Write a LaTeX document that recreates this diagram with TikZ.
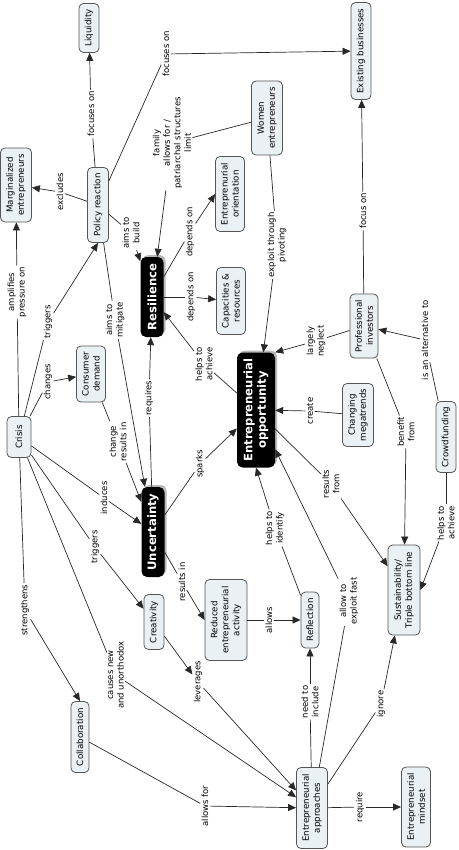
\documentclass[tikz,border=0pt]{standalone}
\usepackage{fontspec}
\setmainfont{DejaVu Sans}
\usetikzlibrary{arrows.meta,shadows}
\definecolor{nfill}{RGB}{234,241,245}
\definecolor{ndraw}{RGB}{85,85,85}
\definecolor{edgec}{RGB}{40,40,40}
\begin{document}
\begin{tikzpicture}[x=1pt,y=-1pt,
  every node/.style={rotate=90},
  sz/.style 2 args={minimum width=#1pt, minimum height=#2pt},
  cnode/.style={draw=ndraw, fill=nfill, rounded corners=4.5pt, line width=0.8pt, align=center, inner sep=2pt, font=\fontsize{8.7}{11}\selectfont},
  bnode/.style={fill=black, text=white, rounded corners=5.5pt, align=center, inner sep=2pt, font=\fontsize{11.6}{13.5}\selectfont\bfseries, drop shadow={shadow xshift=2pt, shadow yshift=2pt, fill=gray!55, opacity=1}},
  lab/.style={fill=white, inner sep=1.3pt, align=center, font=\fontsize{8.5}{10.5}\selectfont},
  conn/.style={draw=edgec, line width=0.7pt},
  arr/.style={conn, -{Triangle[length=8pt,width=7pt]}}
]
\useasboundingbox (0,0) rectangle (458,850);
% concept nodes
\node[cnode, sz={49}{20}] (liq) at (89,28) {Liquidity};
\node[cnode, sz={74}{31}] (marg) at (16,185) {Marginalized\\entrepreneurs};
\node[cnode, sz={75}{21}] (pol) at (98,205) {Policy reaction};
\node[cnode, sz={97}{20}] (exist) at (361,51) {Existing businesses};
\node[cnode, sz={74}{31}] (women) at (267,118) {Women\\entrepreneurs};
\node[cnode, sz={75}{29}] (orient) at (230,194) {Entreprenurial\\orientation};
\node[cnode, sz={67}{29}] (capac) at (231,301) {Capacities \&\\resources};
\node[bnode, sz={80}{23}] (res) at (152,297) {Resilience};
\node[cnode, sz={64}{28}] (prof) at (364,326) {Professional\\investors};
\node[bnode, sz={115}{38}] (opp) at (256,410) {Entrepreneurial\\opportunity};
\node[cnode, sz={63}{31}] (mega) at (358,415) {Changing\\megatrends};
\node[cnode, sz={71}{20}] (crowd) at (446,437) {Crowdfunding};
\node[cnode, sz={56}{29}] (cons) at (91,374) {Consumer\\demand};
\node[cnode, sz={41}{24}] (crisis) at (19,437) {Crisis};
\node[bnode, sz={90}{23}] (unc) at (153,532) {Uncertainty};
\node[cnode, sz={90}{32}] (sust) at (404,590) {Sustainability/\\Triple bottom line};
\node[cnode, sz={55}{20}] (creat) at (154,622) {Creativity};
\node[cnode, sz={81}{42}] (red) at (226,620) {Reduced\\entrepreneurial\\activity};
\node[cnode, sz={56}{18}] (refl) at (310,620) {Reflection};
\node[cnode, sz={71}{18}] (collab) at (80,737) {Collaboration};
\node[cnode, sz={81}{31}] (appr) at (312,808) {Entrepreneurial\\approaches};
\node[cnode, sz={80}{29}] (mind) at (416,807) {Entrepreneurial\\mindset};
% link labels
\node[lab] (l1) at (91,114) {focuses on};
\node[lab] (l2) at (60,192) {excludes};
\node[lab] (l3) at (166,54) {focuses on};
\node[lab] (l4) at (172,143) {family\\allows for /\\patriarchal structures\\limit};
\node[lab] (l5) at (131,233) {aims to\\build};
\node[lab] (l6) at (190,232) {depends on};
\node[lab] (l7) at (191,297) {depends on};
\node[lab] (l8) at (204,364) {helps to\\achieve};
\node[lab] (l9) at (277,245) {exploit through\\pivoting};
\node[lab] (l10) at (363,211) {focus on};
\node[lab] (l11) at (316,341) {largely\\neglect};
\node[lab] (l12) at (425,340) {is an alternative to};
\node[lab] (l13) at (310,411) {create};
\node[lab] (l14) at (406,432) {benefit\\from};
\node[lab] (l15) at (331,484) {results\\from};
\node[lab] (l16) at (446,523) {helps to\\achieve};
\node[lab] (l17) at (17,292) {amplifies\\pressure on};
\node[lab] (l18) at (48,322) {triggers};
\node[lab] (l19) at (48,382) {changes};
\node[lab] (l20) at (118,442) {change\\results in};
\node[lab] (l21) at (115,320) {aims to\\mitigate};
\node[lab] (l22) at (149,398) {requires};
\node[lab] (l23) at (104,498) {induces};
\node[lab] (l24) at (200,464) {sparks};
\node[lab] (l25) at (95,547) {triggers};
\node[lab] (l26) at (182,582) {results in};
\node[lab] (l27) at (269,620) {allows};
\node[lab] (l28) at (275,528) {helps to\\identify};
\node[lab] (l29) at (349,601) {allow to\\exploit fast};
\node[lab] (l30) at (310,702) {need to\\include};
\node[lab] (l31) at (381,704) {ignore};
\node[lab] (l32) at (360,807) {require};
\node[lab] (l33) at (205,806) {allows for};
\node[lab] (l34) at (25,610) {strengthens};
\node[lab] (l35) at (116,675) {causes new\\and unorthodox};
\node[lab] (l36) at (198,682) {leverages};
% connectors
\draw[conn] (pol) -- (l1); \draw[arr] (l1) -- (liq);
\draw[conn] (pol) -- (l2); \draw[arr] (l2) -- (marg);
\draw[conn] (pol) -- (l3); \draw[arr] (l3) -- (exist);
\draw[conn] (women) -- (l4); \draw[arr] (l4) -- (res);
\draw[conn] (pol) -- (l5); \draw[arr] (l5) -- (res);
\draw[conn] (res) -- (l6); \draw[arr] (l6) -- (orient.north);
\draw[conn] (res) -- (l7); \draw[arr] (l7) -- (capac);
\draw[conn] (opp) -- (l8); \draw[arr] (l8) -- (res);
\draw[conn] (women) -- (l9); \draw[arr] (l9) -- (opp);
\draw[conn] (prof) -- (l10); \draw[arr] (l10) -- (exist);
\draw[conn] (prof) -- (l11); \draw[arr] (l11) -- (opp.south east);
\draw[conn] (crowd) -- (l12); \draw[arr] (l12) -- (prof);
\draw[conn] (mega) -- (l13); \draw[arr] (l13) -- (opp);
\draw[conn] (prof) -- (l14); \draw[arr] (l14) -- (sust);
\draw[conn] (opp) -- (l15); \draw[arr] (l15) -- (sust);
\draw[conn] (crowd) -- (l16); \draw[arr] (l16) -- (sust.south);
\draw[conn] (crisis) -- (l17); \draw[arr] (l17) -- (marg);
\draw[conn] (crisis) -- (l18); \draw[arr] (l18) -- (pol.west);
\draw[conn] (crisis) -- (l19); \draw[arr] (l19) -- (cons);
\draw[conn] (cons) -- (l20); \draw[arr] (l20) -- (unc);
\draw[conn] (pol) -- (l21); \draw[arr] (l21) -- (unc);
\draw[conn] (unc) -- (l22); \draw[arr] (l22) -- (res);
\draw[conn] (crisis) -- (l23); \draw[arr] (l23) -- (unc);
\draw[conn] (unc) -- (l24); \draw[arr] (l24) -- (opp);
\draw[conn] (crisis) -- (l25); \draw[arr] (l25) -- (creat);
\draw[conn] (unc) -- (l26); \draw[arr] (l26) -- (red.north);
\draw[conn] (red) -- (l27); \draw[arr] (l27) -- (refl);
\draw[conn] (refl) -- (l28); \draw[arr] (l28) -- (opp.west);
\draw[conn] (appr) -- (l29); \draw[arr] (l29) -- (opp);
\draw[conn] (appr) -- (l30); \draw[arr] (l30) -- (refl);
\draw[conn] (appr) -- (l31); \draw[arr] (l31) -- (sust);
\draw[conn] (appr) -- (l32); \draw[arr] (l32) -- (mind);
\draw[conn] (collab) -- (l33); \draw[arr] (l33) -- (appr);
\draw[conn] (crisis) -- (l34); \draw[arr] (l34) -- (collab.east);
\draw[conn] (crisis) -- (l35); \draw[arr] (l35) -- (appr);
\draw[arr] (creat) -- (l36); \draw[arr] (l36) -- (appr);
\end{tikzpicture}
\end{document}
